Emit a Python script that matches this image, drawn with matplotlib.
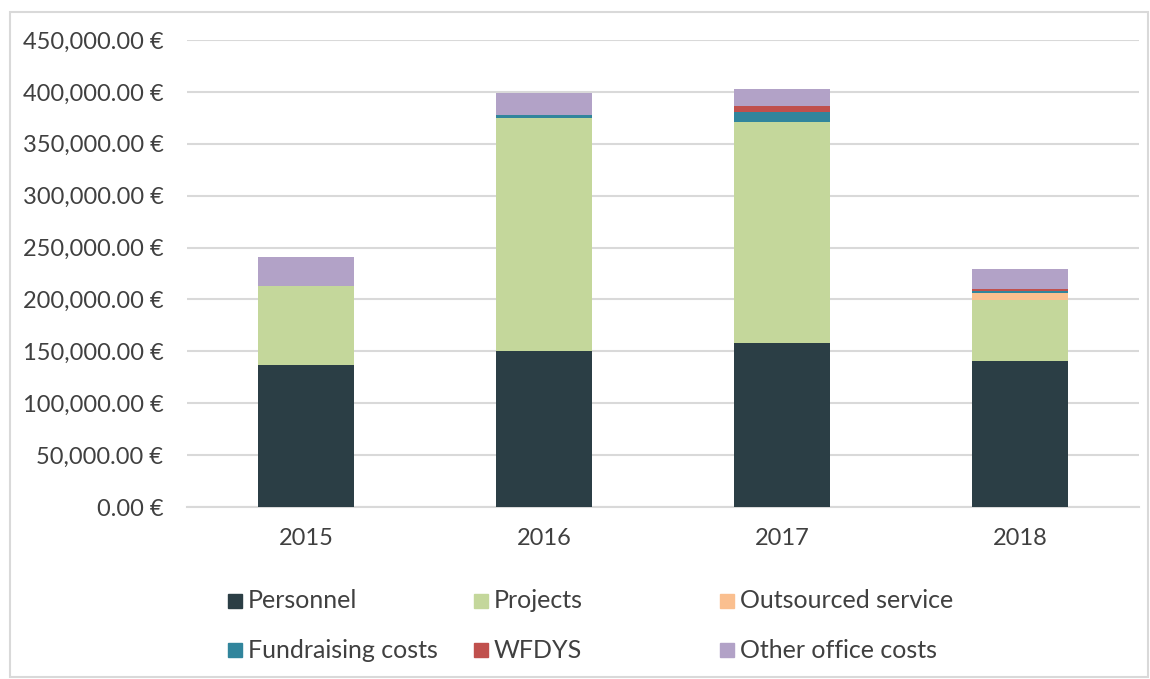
import matplotlib
matplotlib.use("Agg")
import matplotlib.pyplot as plt
from matplotlib.patches import Rectangle
import numpy as np

years = ["2015", "2016", "2017", "2018"]
series_names = ["Personnel", "Projects", "Outsourced service",
                "Fundraising costs", "WFDYS", "Other office costs"]
personnel = [137200, 150000, 157700, 140700]
projects = [75600, 225300, 213700, 59000]
outsourced = [0, 0, 0, 6100]
fundraising = [0, 2300, 9600, 1900]
wfdys = [0, 0, 5500, 1900]
other_office = [27900, 21700, 16700, 19900]
colors = ["#2B3E45", "#C4D79B", "#FABF8F", "#31859C", "#C0504D", "#B2A2C7"]
ytick_values = [0, 50000, 100000, 150000, 200000, 250000, 300000, 350000, 400000, 450000]

plt.rcParams['font.family'] = ['Lato', 'DejaVu Sans']

W, H = 1150, 679
fig = plt.figure(figsize=(W / 100, H / 100), dpi=100)
ax = fig.add_axes([187 / W, 1 - 507 / H, (1139 - 187) / W, (507 - 40) / H])

data = [personnel, projects, outsourced, fundraising, wfdys, other_office]
x = np.arange(len(years))
bottom = np.zeros(len(years))
for name, vals, c in zip(series_names, data, colors):
    ax.bar(x, vals, width=0.40, bottom=bottom, color=c, label=name, zorder=3,
           edgecolor="none")
    bottom += np.array(vals, dtype=float)

ax.set_xlim(-0.5, 3.5)
ax.set_ylim(0, 450000)
ax.set_yticks(ytick_values)
ax.set_yticklabels([f"{v:,.2f} €" for v in ytick_values])
ax.set_xticks(x)
ax.set_xticklabels(years)
ax.grid(axis="y", color="#D9D9D9", linewidth=1.5, zorder=0)
ax.set_axisbelow(True)
for s in ax.spines.values():
    s.set_visible(False)
ax.tick_params(axis="both", length=0, labelsize=17, colors="#404040")
ax.tick_params(axis="y", pad=17)
ax.tick_params(axis="x", pad=15)
ax.axhline(0, color="#D9D9D9", linewidth=1.5, zorder=1, clip_on=False)

# legend drawn in fixed-width columns (3 columns x 2 rows)
col_x = [228, 474, 720]
row_y = [601, 650]
for i, (name, c) in enumerate(zip(series_names, colors)):
    cx = col_x[i % 3]
    cy = row_y[i // 3]
    fig.patches.append(Rectangle((cx / W, 1 - (cy + 7) / H), 14 / W, 14 / H,
                                 transform=fig.transFigure, color=c))
    fig.text((cx + 20) / W, 1 - cy / H, name, fontsize=18, color="#404040",
             va="center", ha="left")

# outer chart border
fig.patches.append(Rectangle((10 / W, 1 - 677 / H), (1148 - 10) / W, (677 - 12) / H,
                             transform=fig.transFigure, fill=False,
                             edgecolor="#D9D9D9", linewidth=1.5))

fig.savefig("out.png", dpi=100)
